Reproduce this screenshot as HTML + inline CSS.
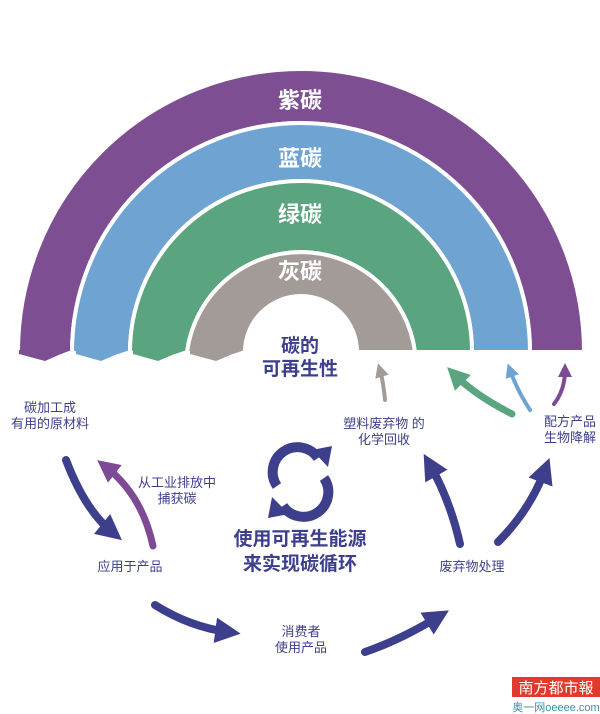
<!DOCTYPE html>
<html><head><meta charset="utf-8"><style>
html,body{margin:0;padding:0;background:#fff;width:600px;height:714px;overflow:hidden}
text{font-family:"Liberation Sans","Noto Sans CJK SC",sans-serif}
</style></head><body>
<svg width="600" height="714" viewBox="0 0 600 714" xmlns="http://www.w3.org/2000/svg">
<defs>
<marker id="an" viewBox="0 0 10 10" refX="5" refY="5" markerWidth="3.2" markerHeight="3.2" orient="auto"><path d="M0,0 L10,5 L0,10 Z" fill="#3d3f8d"/></marker>
<marker id="ap" viewBox="0 0 10 10" refX="5" refY="5" markerWidth="3.2" markerHeight="3.2" orient="auto"><path d="M0,0 L10,5 L0,10 Z" fill="#7e4a95"/></marker>
<marker id="ag" viewBox="0 0 10 10" refX="5" refY="5" markerWidth="3.2" markerHeight="3.2" orient="auto"><path d="M0,0 L10,5 L0,10 Z" fill="#5aa57f"/></marker>
<marker id="ab" viewBox="0 0 10 10" refX="5" refY="5" markerWidth="3.5" markerHeight="3.5" orient="auto"><path d="M0,0 L10,5 L0,10 Z" fill="#6fa3d3"/></marker>
<marker id="agr" viewBox="0 0 10 10" refX="5" refY="5" markerWidth="3.5" markerHeight="3.5" orient="auto"><path d="M0,0 L10,5 L0,10 Z" fill="#a39b98"/></marker>
<marker id="apu" viewBox="0 0 10 10" refX="5" refY="5" markerWidth="3.5" markerHeight="3.5" orient="auto"><path d="M0,0 L10,5 L0,10 Z" fill="#7e4a95"/></marker>
</defs>
<g stroke="#fff" stroke-width="4" stroke-linejoin="miter">
<!-- purple r 282..228 -->
<path d="M18,352 A282,282 0 0 1 584,352 L530,352 A228,228 0 0 0 72,352 L45,362 Z" fill="#7e4e93"/>
<path d="M72,352 A228,228 0 0 1 530,352 L472,352 A170,170 0 0 0 130,352 L101,362 Z" fill="#6fa4d2"/>
<path d="M130,352 A170,170 0 0 1 472,352 L415,352 A115,115 0 0 0 187,352 L158,362 Z" fill="#5aa47f"/>
<path d="M187,352 A115,115 0 0 1 415,352 L357,352 A56,56 0 0 0 245,352 L216,362 Z" fill="#a39b98"/>
</g>
<rect x="0" y="354" width="600" height="12" fill="#fff"/>
<path d="M16,350 L74,350 L45,362 Z M70,350 L130,350 L101,362 Z M128,350 L187,350 L158,362 Z M185,350 L245,350 L216,362 Z" fill="none"/>
<g fill="#7e4e93"><path d="M19,350 L70,350 L45,361 L19,354 Z"/></g>
<g fill="#6fa4d2"><path d="M76,350 L127,350 L101,361 L76,354 Z"/></g>
<g fill="#5aa47f"><path d="M133,350 L184,350 L158,361 L133,354 Z"/></g>
<g fill="#a39b98"><path d="M190,350 L242,350 L216,361 L190,354 Z"/></g>
<g fill="#fff" font-size="22" font-weight="bold" text-anchor="middle">
<text x="300" y="108">紫碳</text><text x="300" y="166">蓝碳</text><text x="300" y="222">绿碳</text><text x="300" y="279">灰碳</text>
</g>
<g fill="#3d3f8d" font-size="19" font-weight="bold" text-anchor="middle">
<text x="300" y="352">碳的</text><text x="300" y="375">可再生性</text>
<text x="300" y="545">使用可再生能源</text><text x="300" y="570">来实现碳循环</text>
</g>
<g fill="#3d3f8d" font-size="13" text-anchor="middle">
<text x="50" y="412">碳加工成</text><text x="50" y="428">有用的原材料</text>
<text x="177" y="487">从工业排放中</text><text x="177" y="503">捕获碳</text>
<text x="130" y="571">应用于产品</text>
<text x="301" y="636">消费者</text><text x="301" y="652">使用产品</text>
<text x="472" y="571">废弃物处理</text>
<text x="384" y="428">塑料废弃物 的</text><text x="384" y="444">化学回收</text>
<text x="570" y="426">配方产品</text><text x="570" y="442">生物降解</text>
</g>
<g fill="none" stroke-linecap="round">
<path d="M66,460 Q85,510 112,532" stroke="#3d3f8d" stroke-width="8" marker-end="url(#an)"/>
<path d="M153,546 Q142,495 106,467" stroke="#7e4a95" stroke-width="7" marker-end="url(#ap)"/>
<path d="M155,605 Q190,627 228,632" stroke="#3d3f8d" stroke-width="8" marker-end="url(#an)"/>
<path d="M365,652 Q400,640 438,617" stroke="#3d3f8d" stroke-width="8" marker-end="url(#an)"/>
<path d="M460,544 Q450,500 430,465" stroke="#3d3f8d" stroke-width="8" marker-end="url(#an)"/>
<path d="M498,542 Q530,510 545,470" stroke="#3d3f8d" stroke-width="8" marker-end="url(#an)"/>
<path d="M385,400 Q383,380 380,370" stroke="#a39b98" stroke-width="4" marker-end="url(#agr)"/>
<path d="M512,414 Q475,395 455,375" stroke="#5aa57f" stroke-width="7" marker-end="url(#ag)"/>
<path d="M530,410 Q517,390 510,370" stroke="#6fa3d3" stroke-width="4" marker-end="url(#ab)"/>
<path d="M554,404 Q565,390 565,370" stroke="#7e4a95" stroke-width="4" marker-end="url(#apu)"/>
<!-- cycle icon -->
<path d="M277,486 A24,24 0 0 1 318,458" stroke="#3d3f8d" stroke-width="10" stroke-linecap="butt"/>
<path d="M324,478 A24,24 0 0 1 283,506" stroke="#3d3f8d" stroke-width="10" stroke-linecap="butt"/>
</g>
<path d="M312,450 L332,446 L328,467 Z" fill="#3d3f8d"/>
<path d="M289,514 L268,518 L272,497 Z" fill="#3d3f8d"/>
<rect x="512" y="677" width="88" height="20" fill="#e03a2f"/>
<text x="556" y="693" fill="#fff" font-size="15" text-anchor="middle" font-family="Liberation Sans,Noto Sans CJK SC,sans-serif">南方都市報</text>
<text x="556" y="711" fill="#3f8fa0" font-size="11" text-anchor="middle">奥一网oeeee.com</text>
</svg>
</body></html>
